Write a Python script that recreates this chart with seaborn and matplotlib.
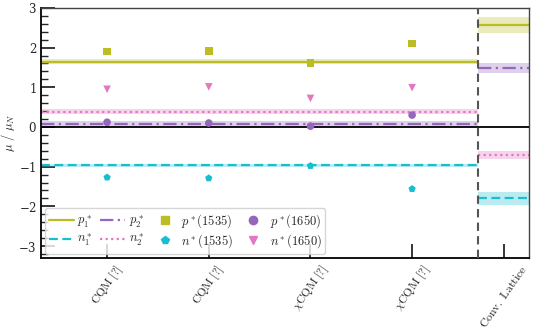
import numpy as np
import pandas as pd
import matplotlib
matplotlib.use("Agg")
import matplotlib.pyplot as plt
import seaborn as sns
from matplotlib.ticker import MultipleLocator
from matplotlib.lines import Line2D

sns.set_style("ticks")
plt.rcParams["mathtext.fontset"] = "cm"
plt.rcParams["font.family"] = ["DejaVu Serif"]
plt.rcParams["axes.formatter.use_mathtext"] = True

# ---- data ----
models = [r"$\mathrm{CQM\ [?]}$", r"$\mathrm{CQM\ [?]}$",
          r"$\chi\mathrm{CQM\ [?]}$", r"$\chi\mathrm{CQM\ [?]}$"]
lattice_label = r"$\mathrm{Conv.\ Lattice}$"

p1535 = [1.90, 1.91, 1.61, 2.10]
n1535 = [-1.27, -1.29, -0.98, -1.56]
p1650 = [0.12, 0.10, 0.02, 0.30]
n1650 = [0.95, 1.01, 0.72, 0.99]

# horizontal (model-average) lines: value, lower, upper
line_names = ["p1", "n1", "p2", "n2"]
line_vals = [1.65, -0.97, 0.08, 0.39]
line_lo = [1.58, -1.01, 0.01, 0.32]
line_hi = [1.72, -0.93, 0.15, 0.46]

# lattice values: value, lower, upper
lat_vals = [2.57, -1.80, 1.49, -0.70]
lat_lo = [2.37, -1.96, 1.37, -0.80]
lat_hi = [2.77, -1.64, 1.62, -0.60]

line_labels = [r"$p_1^*$", r"$n_1^*$", r"$p_2^*$", r"$n_2^*$"]
colors = {"p1": "#bcbd22", "n1": "#17becf", "p2": "#9467bd", "n2": "#e377c2"}
styles = {"p1": "-", "n1": (0, (4, 2)), "p2": (0, (6, 2, 1, 2)), "n2": (0, (1, 1.5))}

xpos = np.arange(len(models))
lat_x = 3.9
sep_x = 3.65
xmin, xmax = -0.65, 4.15

fig = plt.figure(figsize=(5.36, 3.31), dpi=100)
ax = fig.add_axes([0.0765, 0.222, 0.987 - 0.0765, 0.976 - 0.222])
ax.set_xlim(xmin, xmax)
ax.set_ylim(-3.29, 3)

handles = {}
for name, lab, v, lo, hi, lv, llo, lhi in zip(line_names, line_labels, line_vals,
                                             line_lo, line_hi, lat_vals, lat_lo, lat_hi):
    c = colors[name]
    ax.fill_between([xmin, sep_x], [lo, lo], [hi, hi], color=c, alpha=0.3, lw=0)
    h, = ax.plot([xmin, sep_x], [v, v], color=c, ls=styles[name], lw=1.6, label=lab)
    handles[name] = h
    ax.fill_between([sep_x, xmax], [llo, llo], [lhi, lhi], color=c, alpha=0.3, lw=0)
    ax.plot([sep_x, xmax], [lv, lv], color=c, ls=styles[name], lw=1.6)

df = pd.DataFrame({"x": np.concatenate([xpos] * 4),
                   "y": p1535 + n1535 + p1650 + n1650,
                   "state": [r"$p^*(1535)$"] * 4 + [r"$n^*(1535)$"] * 4
                            + [r"$p^*(1650)$"] * 4 + [r"$n^*(1650)$"] * 4})
markers = {r"$p^*(1535)$": "s", r"$n^*(1535)$": "p",
           r"$p^*(1650)$": "o", r"$n^*(1650)$": "v"}
pal = {r"$p^*(1535)$": colors["p1"], r"$n^*(1535)$": colors["n1"],
       r"$p^*(1650)$": colors["p2"], r"$n^*(1650)$": colors["n2"]}
sns.scatterplot(data=df, x="x", y="y", hue="state", style="state",
                markers=markers, palette=pal, s=30, edgecolor="none",
                ax=ax, legend=False, zorder=5)

pt_handles = [Line2D([], [], ls="none", marker=markers[k], color=pal[k],
                     markersize=6, label=k) for k in markers]

ax.axhline(0, color="black", lw=1.3, zorder=4)
ax.axvline(sep_x, color="#555555", ls=(0, (4, 2.5)), lw=1.5, zorder=6)

ax.set_xticks(list(xpos) + [lat_x])
ax.set_xticklabels(models + [lattice_label], rotation=55, ha="center", fontsize=8.5)
ax.yaxis.set_major_locator(MultipleLocator(1))
ax.yaxis.set_minor_locator(MultipleLocator(0.2))
ax.tick_params(axis="y", which="major", direction="in", length=10, width=1.3,
               labelsize=8.5, left=True, right=False, pad=3)
ax.tick_params(axis="y", which="minor", direction="in", length=5, width=1.0,
               left=True, right=False)
ax.tick_params(axis="x", which="major", direction="in", length=10, width=1.3,
               bottom=True, top=False)
ax.set_ylabel(r"$\mu\ /\ \mu_N$", fontsize=9)
ax.yaxis.set_label_coords(-0.049, 0.5)
ax.set_xlabel("")

for s in ["left", "bottom"]:
    ax.spines[s].set_color("black")
    ax.spines[s].set_linewidth(1.3)
for s in ["top", "right"]:
    ax.spines[s].set_color("#444444")
    ax.spines[s].set_linewidth(1.0)

leg = ax.legend(handles=[handles["p1"], handles["n1"], handles["p2"], handles["n2"]] + pt_handles,
                ncol=4, loc="lower left", fontsize=9, frameon=True,
                borderaxespad=0.3, handlelength=2.0, columnspacing=0.6,
                handletextpad=0.3, labelspacing=0.2, borderpad=0.3)
leg.get_frame().set_edgecolor("#cccccc")

fig.savefig("out.png", dpi=100)
